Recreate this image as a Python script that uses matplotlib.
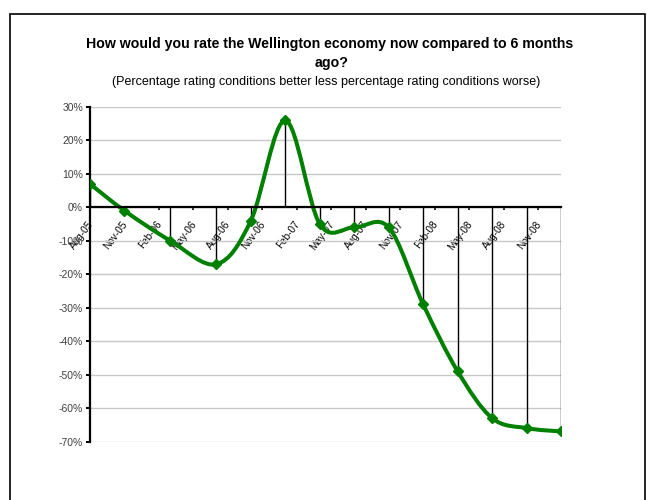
import numpy as np
import pandas as pd
import matplotlib
matplotlib.use('Agg')
import matplotlib.pyplot as plt
from matplotlib.path import Path
from matplotlib.patches import PathPatch, Rectangle
from matplotlib.transforms import ScaledTranslation

plt.rcParams['font.family'] = ['Liberation Sans', 'DejaVu Sans']

# survey month and net rating (% better minus % worse)
survey_dates = ['2005-08', '2005-11', '2006-03', '2006-07', '2006-10', '2007-01', '2007-04',
                '2007-07', '2007-10', '2008-01', '2008-04', '2008-07', '2008-10', '2009-01']
net_rating = [7, -1, -10, -17, -4, 26, -5, -6, -6, -29, -49, -63, -66, -67]

tick_labels = ['Aug-05', 'Nov-05', 'Feb-06', 'May-06', 'Aug-06', 'Nov-06', 'Feb-07',
               'May-07', 'Aug-07', 'Nov-07', 'Feb-08', 'May-08', 'Aug-08', 'Nov-08']
y_ticks = [30, 20, 10, 0, -10, -20, -30, -40, -50, -60, -70]

# months since the first survey, used as the x position
d = pd.to_datetime(survey_dates)
x = np.array((d.year - d[0].year) * 12 + (d.month - d[0].month), dtype=float)
y = np.array(net_rating, dtype=float)
tick_pos = np.arange(len(tick_labels)) * 3


def smooth_path(px, py):
    # excel style smoothed line: cubic bezier, control points from neighbours
    pts = np.column_stack([px, py])
    n = len(pts)
    verts = [pts[0]]
    codes = [Path.MOVETO]
    for i in range(n - 1):
        p0 = pts[i - 1] if i > 0 else pts[i]
        p1 = pts[i]
        p2 = pts[i + 1]
        p3 = pts[i + 2] if i + 2 < n else pts[i + 1]
        c1 = p1 + (p2 - p0) / 6.0
        c2 = p2 - (p3 - p1) / 6.0
        verts += [c1, c2, p2]
        codes += [Path.CURVE4] * 3
    return Path(verts, codes)


fig = plt.figure(figsize=(6.53, 5.0), dpi=100)
ax = fig.add_axes([90 / 653, 1 - 441.5 / 500, (561 - 90) / 653, (441.5 - 107) / 500])

# outer chart frame
fig.patches.append(Rectangle((9.5 / 653, -0.05), 635.5 / 653, 1.05 - 14 / 500,
                             transform=fig.transFigure, fill=False, lw=1.2, ec='black'))

ax.set_xlim(0, x[-1])
ax.set_ylim(-70, 30)
ax.set_yticks(y_ticks)
ax.set_yticklabels([f'{v}%' for v in y_ticks])
ax.yaxis.grid(True, color='#c8c8c8', lw=1.0)
ax.set_axisbelow(True)

# drop lines from each point to the zero axis
ax.vlines(x, 0, y, colors='black', lw=1.0, zorder=2)

ax.add_patch(PathPatch(smooth_path(x, y), fill=False, ec='#008000', lw=2.9,
                       capstyle='round', zorder=3))
ax.plot(x, y, ls='none', marker='D', ms=5, color='#008000', zorder=4)

ax.spines['top'].set_visible(False)
ax.spines['right'].set_visible(False)
ax.spines['bottom'].set_position(('data', 0))
ax.spines['bottom'].set_linewidth(1.6)
ax.spines['left'].set_linewidth(1.6)
ax.spines['bottom'].set_zorder(5)

ax.set_xticks(tick_pos)
ax.set_xticklabels(tick_labels, rotation=53, ha='right', va='top',
                   rotation_mode='anchor', fontsize=7.2, color='black')
ax.tick_params(axis='x', direction='out', length=2.5, width=1.2, pad=6)
ax.tick_params(axis='y', direction='out', length=3, width=1.4, labelsize=7.5,
               labelcolor='#404040', pad=2)
shift = ScaledTranslation(-3 / 100, 0, fig.dpi_scale_trans)
for lab in ax.get_xticklabels():
    lab.set_transform(lab.get_transform() + shift)

fig.text(0.505, 1 - 47.7 / 500, 'How would you rate the Wellington economy now compared to 6 months',
         ha='center', va='baseline', fontsize=10.2, fontweight='bold')
fig.text(0.508, 1 - 67 / 500, 'ago?', ha='center', va='baseline', fontsize=10.2, fontweight='bold')
fig.text(0.5, 1 - 85.5 / 500,
         '(Percentage rating conditions better less percentage rating conditions worse)',
         ha='center', va='baseline', fontsize=9)

fig.savefig('out.png', dpi=100)
